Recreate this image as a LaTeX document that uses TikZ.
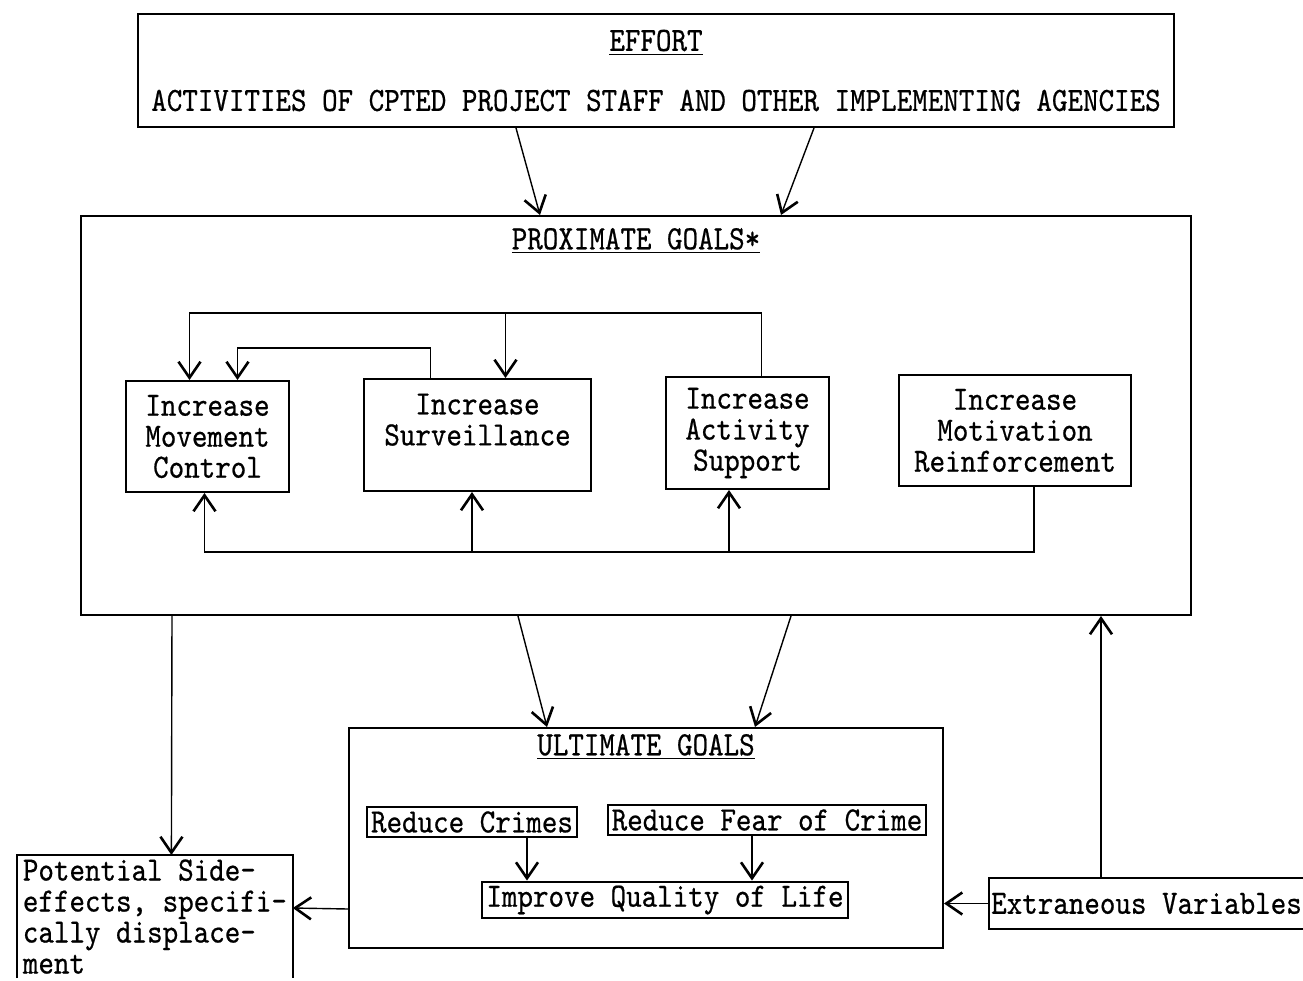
\documentclass[tikz,border=0pt]{standalone}
\usepackage{fontspec}
\setmainfont{lmmono10-regular}[Extension=.otf,FakeStretch=0.87,FakeBold=0.6]
\usetikzlibrary{arrows.meta}
\begin{document}
\begin{tikzpicture}[x=0.5pt,y=-0.5pt,font=\fontsize{17}{15.5}\selectfont,
	goalbox/.style={draw,line width=1pt,align=center,inner sep=2pt},
	flow/.style={line width=0.7pt,-{Straight Barb[length=8pt,width=11pt,line width=1.3pt]}}]
		\useasboundingbox (0,0) rectangle (1303,981);
		%effort
		\node[goalbox,anchor=north west,minimum width=518pt,minimum height=56.5pt] (effort) at (137,13)
		{\underline{EFFORT}\\[14.5pt]ACTIVITIES OF CPTED PROJECT STAFF AND OTHER IMPLEMENTING AGENCIES};
		%proximate goals
		\node[goalbox,anchor=north west,minimum width=555pt,minimum height=199.5pt] (proximate) at (80,215) {};
		\node[anchor=north,yshift=-3pt] (proxtitle) at (proximate.north) {\underline{PROXIMATE GOALS*}};
		\node[goalbox,anchor=north west,minimum width=81.5pt,minimum height=55.5pt] (move) at (125,380) {Increase\\Movement\\Control};
		\node[goalbox,anchor=north west,minimum width=113.5pt,minimum height=56pt] (surv) at (363,378) {Increase\\Surveillance\\\phantom{X}};
		\node[goalbox,anchor=north west,minimum width=81.5pt,minimum height=56pt] (act) at (665,376) {Increase\\Activity\\Support};
		\node[goalbox,anchor=north west,minimum width=116pt,minimum height=55.5pt] (motiv) at (898,374) {Increase\\Motivation\\Reinforcement};
		%ultimate goals
		\node[goalbox,anchor=north west,minimum width=297pt,minimum height=110pt] (ultimate) at (348,727) {};
		\node[anchor=north] (ulttitle) at (ultimate.north) {\underline{ULTIMATE GOALS}};
		\node[goalbox] (crimes) at (472,822) {Reduce Crimes};
		\node[goalbox] (fear) at (767,820) {Reduce Fear of Crime};
		\node[goalbox] (improve) at (665,900) {Improve Quality of Life};
		%side effects and outside
		\node[anchor=north west,align=left,inner xsep=1.5pt,inner ysep=2pt,minimum width=137.5pt] (side) at (17,855)
		{Potential Side-\\effects, specifi-\\cally displace-\\ment};
		\draw[line width=1pt] (side.south west) -- (side.north west) -- (side.north east) -- (side.south east);
		\node[goalbox,anchor=north west,inner xsep=0.5pt,minimum width=157.5pt,minimum height=25.5pt] (extr) at (988,877) {Extraneous Variables};
		%effort to proximate
		\draw[flow] ([xshift=-70pt]effort.south) -- ([xshift=-48pt]proximate.north);
		\draw[flow] ([xshift=79pt]effort.south) -- ([xshift=72.5pt]proximate.north);
		%feedback inside proximate goals
		\draw[flow] ([xshift=7pt]act.north) -- ++(0,-63) -| ([xshift=-9pt]move.north);
		\draw[flow] ([xshift=14pt]surv.north) ++(0,-65) -- ([xshift=14pt]surv.north);
		\draw[flow] ([xshift=-23.5pt]surv.north) -- ++(0,-30) -| ([xshift=15pt]move.north);
		\draw[flow] ([xshift=9.5pt]motiv.south) -- ++(0,65) -| ([xshift=-1.5pt]move.south);
		\foreach \n/\s/\d in {surv/-2.75pt/60,act/-9.25pt/62}
		\draw[flow] ([xshift=\s]\n.south) ++(0,\d) -- ([xshift=\s]\n.south);
		%proximate to ultimate
		\draw[flow] ([xshift=-59pt]proximate.south) -- ([xshift=-49.5pt]ultimate.north);
		\draw[flow] ([xshift=77.5pt]proximate.south) -- ([xshift=54.5pt]ultimate.north);
		\draw[flow] ([xshift=27.5pt]crimes.south) -- ([xshift=-69pt]improve.north);
		\draw[flow] ([xshift=-7.5pt]fear.south) -- ([xshift=43.5pt]improve.north);
		%displacement and extraneous variables
		\draw[flow] ([xshift=-232pt]proximate.south) -- ([xshift=8.25pt]side.north);
		\draw[flow] ([yshift=-35.5pt]ultimate.west) -- ([yshift=-26.5pt]side.north east);
		\draw[flow] (extr.west) -- (extr.west -| ultimate.east);
		\draw[flow] ([xshift=-22.75pt]extr.north) -- ([xshift=232.5pt]proximate.south);
\end{tikzpicture}
\end{document}
